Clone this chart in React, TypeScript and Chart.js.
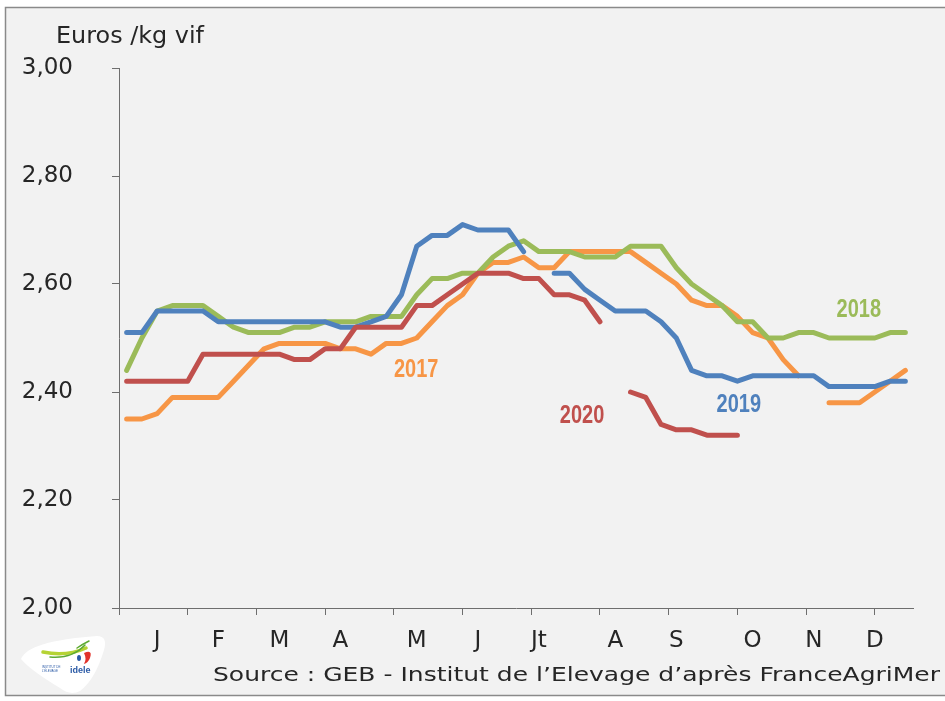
import React, { useEffect, useRef } from "react";
import { Chart, registerables } from "chart.js";

Chart.register(...registerables);

// ---- Data (weekly prices, €/kg vif) ----
const monthLabels = ["J", "F", "M", "A", "M", "J", "Jt", "A", "S", "O", "N", "D"];
const monthLabelWeeks = [2.5, 6.5, 10.5, 14.5, 19.5, 23.5, 27.5, 32.5, 36.5, 41.5, 45.5, 49.5];
const monthTickWeeks = [0, 4.5, 9, 13.5, 18, 22.5, 27, 31.5, 36, 40.5, 45, 49.5];
const weekCount = 52;
const yTicks = [2.0, 2.2, 2.4, 2.6, 2.8, 3.0];

const prix2017 = [
  2.35, 2.35, 2.36, 2.39, 2.39, 2.39, 2.39, 2.42, 2.45, 2.48, 2.49, 2.49, 2.49,
  2.49, 2.48, 2.48, 2.47, 2.49, 2.49, 2.5, 2.53, 2.56, 2.58, 2.62, 2.64, 2.64,
  2.65, 2.63, 2.63, 2.66, 2.66, 2.66, 2.66, 2.66, 2.64, 2.62, 2.6, 2.57, 2.56,
  2.56, 2.54, 2.51, 2.5, 2.46, 2.43, null, 2.38, 2.38, 2.38, 2.4, 2.42, 2.44,
];
const prix2018 = [
  2.44, 2.5, 2.55, 2.56, 2.56, 2.56, 2.54, 2.52, 2.51, 2.51, 2.51, 2.52, 2.52,
  2.53, 2.53, 2.53, 2.54, 2.54, 2.54, 2.58, 2.61, 2.61, 2.62, 2.62, 2.65, 2.67,
  2.68, 2.66, 2.66, 2.66, 2.65, 2.65, 2.65, 2.67, 2.67, 2.67, 2.63, 2.6, 2.58,
  2.56, 2.53, 2.53, 2.5, 2.5, 2.51, 2.51, 2.5, 2.5, 2.5, 2.5, 2.51, 2.51,
];
const prix2019 = [
  2.51, 2.51, 2.55, 2.55, 2.55, 2.55, 2.53, 2.53, 2.53, 2.53, 2.53, 2.53, 2.53,
  2.53, 2.52, 2.52, 2.53, 2.54, 2.58, 2.67, 2.69, 2.69, 2.71, 2.7, 2.7, 2.7,
  2.66, null, 2.62, 2.62, 2.59, 2.57, 2.55, 2.55, 2.55, 2.53, 2.5, 2.44, 2.43,
  2.43, 2.42, 2.43, 2.43, 2.43, 2.43, 2.43, 2.41, 2.41, 2.41, 2.41, 2.42, 2.42,
];
const prix2020 = [
  2.42, 2.42, 2.42, 2.42, 2.42, 2.47, 2.47, 2.47, 2.47, 2.47, 2.47, 2.46, 2.46,
  2.48, 2.48, 2.52, 2.52, 2.52, 2.52, 2.56, 2.56, 2.58, 2.6, 2.62, 2.62, 2.62,
  2.61, 2.61, 2.58, 2.58, 2.57, 2.53, null, 2.4, 2.39, 2.34, 2.33, 2.33, 2.32,
  2.32, 2.32, null, null, null, null, null, null, null, null, null, null, null,
];

const seriesNames = ["2020", "2019", "2018", "2017"];
const seriesColors = ["#C0504D", "#4F81BD", "#9BBB59", "#F79646"];
const seriesValues = [prix2020, prix2019, prix2018, prix2017];

// Year labels placed in data coordinates (week, price)
const yearNotes = [
  { text: "2017", week: 19.46, price: 2.445, color: "#F79646" },
  { text: "2018", week: 48.45, price: 2.555, color: "#9BBB59" },
  { text: "2019", week: 40.59, price: 2.38, color: "#4F81BD" },
  { text: "2020", week: 30.33, price: 2.36, color: "#C0504D" },
];

const unitTitle = "Euros /kg vif";
const sourceText = "Source : GEB - Institut de l\u2019Elevage d\u2019apr\u00e8s FranceAgriMer";

const AXIS_COLOR = "#6e6e6e";
const TEXT_COLOR = "#262626";
const FONT_FAMILY = '"DejaVu Sans", "Open Sans", sans-serif';

function drawScaledText(
  ctx: CanvasRenderingContext2D,
  text: string,
  x: number,
  y: number,
  font: string,
  color: string,
  targetWidth: number | null,
  sx: number,
  align: "left" | "center"
) {
  ctx.save();
  ctx.font = font;
  ctx.fillStyle = color;
  ctx.textBaseline = "alphabetic";
  ctx.textAlign = align;
  const w = ctx.measureText(text).width;
  const scale = targetWidth ? targetWidth / w : sx;
  ctx.translate(x, y);
  ctx.scale(scale, 1);
  ctx.fillText(text, 0, 0);
  ctx.restore();
}

const decorPlugin = {
  id: "decor",
  beforeDraw(chart: any) {
    const ctx: CanvasRenderingContext2D = chart.ctx;
    const W = chart.width;
    const H = chart.height;
    ctx.save();
    ctx.fillStyle = "#ffffff";
    ctx.fillRect(0, 0, W, H);
    ctx.fillStyle = "#F2F2F2";
    ctx.fillRect(5, 7, W - 5, 688);
    ctx.strokeStyle = "#8a8a8a";
    ctx.lineWidth = 1.5;
    ctx.beginPath();
    ctx.moveTo(W, 7.5);
    ctx.lineTo(5.5, 7.5);
    ctx.lineTo(5.5, 695.5);
    ctx.lineTo(W, 695.5);
    ctx.stroke();
    ctx.restore();
  },
  afterDraw(chart: any) {
    const ctx: CanvasRenderingContext2D = chart.ctx;
    const xs = chart.scales.x;
    const ys = chart.scales.y;

    // unit title
    drawScaledText(ctx, unitTitle, 56, 42.5, `23px ${FONT_FAMILY}`, TEXT_COLOR, 148, 1, "left");
    // source
    drawScaledText(ctx, sourceText, 213, 681, `19px ${FONT_FAMILY}`, TEXT_COLOR, 727, 1, "left");

    // year notes
    yearNotes.forEach((n) => {
      const px = xs.getPixelForValue(n.week);
      const py = ys.getPixelForValue(n.price);
      drawScaledText(
        ctx,
        n.text,
        px,
        py + 9,
        `bold 25px "Liberation Sans", Arial, sans-serif`,
        n.color,
        null,
        0.8,
        "center"
      );
    });

    // logo
    ctx.save();
    ctx.fillStyle = "#ffffff";
    ctx.beginPath();
    ctx.moveTo(21, 659);
    ctx.quadraticCurveTo(28, 641, 97, 636);
    ctx.quadraticCurveTo(108, 636, 104, 650);
    ctx.quadraticCurveTo(95, 680, 80, 691);
    ctx.quadraticCurveTo(70, 696, 60, 688);
    ctx.quadraticCurveTo(30, 670, 21, 659);
    ctx.fill();
    ctx.lineCap = "round";
    ctx.strokeStyle = "#B5D334";
    ctx.lineWidth = 3.5;
    ctx.beginPath();
    ctx.moveTo(43, 652);
    ctx.quadraticCurveTo(66, 657, 86, 648);
    ctx.stroke();
    ctx.strokeStyle = "#5DAA32";
    ctx.lineWidth = 1.5;
    ctx.beginPath();
    ctx.moveTo(50, 657);
    ctx.quadraticCurveTo(72, 659, 85, 645);
    ctx.stroke();
    ctx.beginPath();
    ctx.moveTo(77, 648);
    ctx.quadraticCurveTo(83, 644, 89, 641);
    ctx.stroke();
    ctx.fillStyle = "#E2332B";
    ctx.beginPath();
    ctx.moveTo(84, 653);
    ctx.quadraticCurveTo(93, 649, 90, 658);
    ctx.quadraticCurveTo(88, 663, 84, 664);
    ctx.quadraticCurveTo(87, 659, 84, 653);
    ctx.fill();
    ctx.fillStyle = "#2B5AA6";
    ctx.beginPath();
    ctx.ellipse(79, 658, 2, 3, 0, 0, Math.PI * 2);
    ctx.fill();
    ctx.font = `bold 9px "Liberation Sans", Arial, sans-serif`;
    ctx.textBaseline = "alphabetic";
    ctx.fillText("idele", 70, 673);
    ctx.font = `3px "Liberation Sans", Arial, sans-serif`;
    ctx.fillText("INSTITUT DE", 42, 668);
    ctx.fillText("L\u2019\u00c9LEVAGE", 42, 672);
    ctx.restore();
  },
};

const allXTicks = Array.from(new Set([...monthTickWeeks, ...monthLabelWeeks])).sort((a, b) => a - b);

function monthLabelFor(v: number): string {
  const idx = monthLabelWeeks.findIndex((w) => Math.abs(w - v) < 1e-6);
  return idx >= 0 ? monthLabels[idx] : "";
}
function isMonthTick(v: number): boolean {
  return monthTickWeeks.some((w) => Math.abs(w - v) < 1e-6);
}

export default function App() {
  const ref = useRef<HTMLCanvasElement | null>(null);

  useEffect(() => {
    if (!ref.current) return;
    const datasets = seriesValues.map((vals, si) => ({
      label: seriesNames[si],
      data: vals.map((v, i) => ({ x: i + 0.5, y: v })),
      borderColor: seriesColors[si],
      backgroundColor: seriesColors[si],
      borderWidth: 5,
      pointRadius: 0,
      tension: 0,
      spanGaps: false,
      borderCapStyle: "round" as const,
      borderJoinStyle: "round" as const,
      fill: false,
    }));

    const chart = new Chart(ref.current, {
      type: "line",
      data: { datasets },
      options: {
        animation: false,
        responsive: false,
        events: [],
        layout: { padding: { top: 68, right: 32, left: 0, bottom: 0 } },
        plugins: { legend: { display: false }, tooltip: { enabled: false }, title: { display: false } },
        scales: {
          x: {
            type: "linear",
            min: 0,
            max: weekCount,
            afterBuildTicks: (s: any) => {
              s.ticks = allXTicks.map((v) => ({ value: v }));
            },
            afterFit: (s: any) => {
              s.height = 93;
            },
            grid: {
              drawOnChartArea: false,
              drawTicks: true,
              tickLength: 7,
              tickWidth: 1,
              tickColor: (c: any) => (c.tick && isMonthTick(c.tick.value) ? AXIS_COLOR : "rgba(0,0,0,0)"),
            },
            border: { display: true, color: AXIS_COLOR, width: 1 },
            ticks: {
              autoSkip: false,
              maxRotation: 0,
              minRotation: 0,
              padding: 12,
              color: TEXT_COLOR,
              font: { family: FONT_FAMILY, size: 23 },
              callback: (v: any) => monthLabelFor(Number(v)),
            },
          },
          y: {
            type: "linear",
            min: 2,
            max: 3,
            afterBuildTicks: (s: any) => {
              s.ticks = yTicks.map((v) => ({ value: v }));
            },
            afterFit: (s: any) => {
              s.width = 119;
            },
            grid: {
              drawOnChartArea: false,
              drawTicks: true,
              tickLength: 7,
              tickWidth: 1,
              tickColor: AXIS_COLOR,
            },
            border: { display: true, color: AXIS_COLOR, width: 1 },
            ticks: {
              padding: 39,
              color: TEXT_COLOR,
              font: { family: FONT_FAMILY, size: 23 },
              callback: (v: any) => Number(v).toFixed(2).replace(".", ","),
            },
          },
        },
      },
      plugins: [decorPlugin],
    });
    return () => chart.destroy();
  }, []);

  return (
    <div style={{ position: "fixed", left: 0, top: 0, width: 945, height: 701, overflow: "hidden", background: "#fff" }}>
      <canvas ref={ref} width={945} height={701} style={{ display: "block", width: 945, height: 701 }} />
    </div>
  );
}
